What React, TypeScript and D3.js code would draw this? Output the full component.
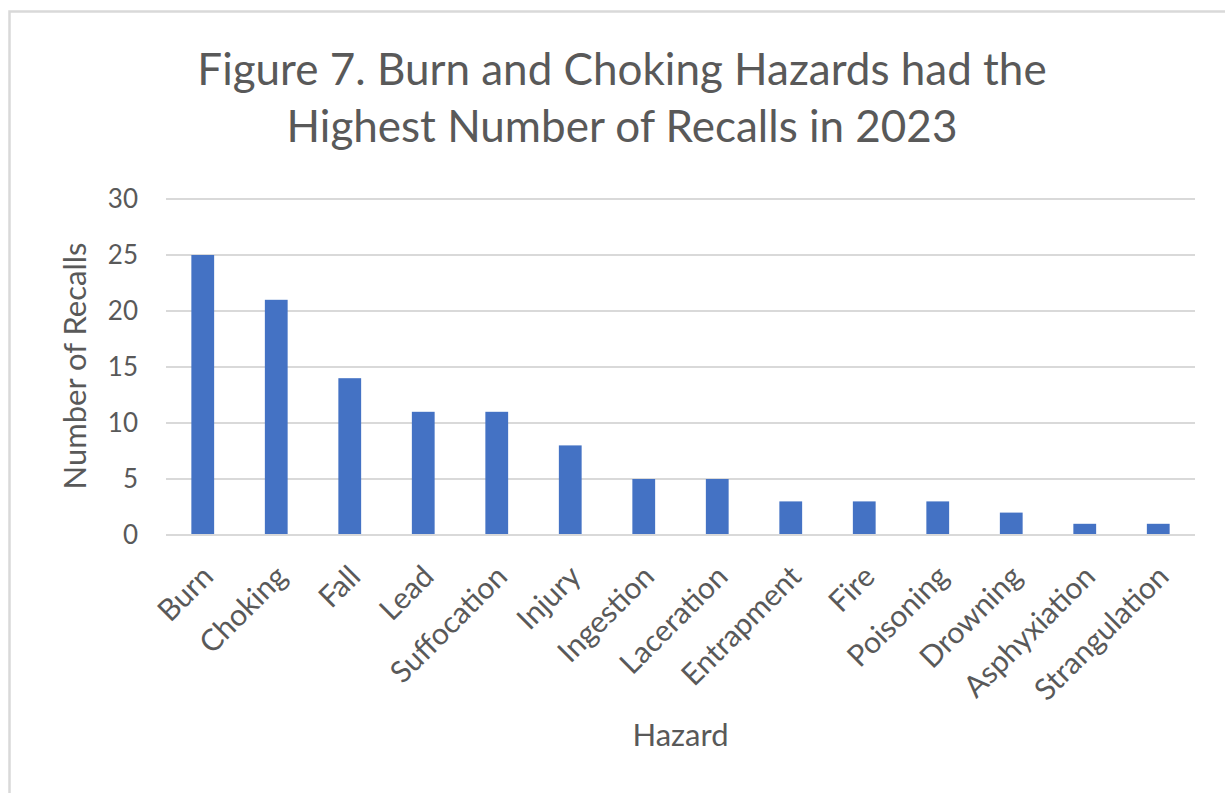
import React from "react";
import * as d3 from "d3";

const hazards = [
  "Burn",
  "Choking",
  "Fall",
  "Lead",
  "Suffocation",
  "Injury",
  "Ingestion",
  "Laceration",
  "Entrapment",
  "Fire",
  "Poisoning",
  "Drowning",
  "Asphyxiation",
  "Strangulation",
];
const recalls = [25, 21, 14, 11, 11, 8, 5, 5, 3, 3, 3, 2, 1, 1];
const yTicks = [0, 5, 10, 15, 20, 25, 30];
const titleLines = [
  "Figure 7. Burn and Choking Hazards had the",
  "Highest Number of Recalls in 2023",
];

const width = 1225,
  height = 793;
const plot = { left: 166, right: 1195, top: 199, bottom: 535 };
const font = "Lato, 'Open Sans', sans-serif";
const textColor = "#595959";

const App = () => {
  const x = d3
    .scaleBand()
    .domain(hazards)
    .range([plot.left, plot.right])
    .paddingInner(0.69)
    .paddingOuter(0.345);

  const y = d3.scaleLinear().domain([0, 30]).range([plot.bottom, plot.top]);

  const data = hazards.map((name, i) => ({ name, value: recalls[i] }));

  return (
    <svg
      width={width}
      height={height}
      style={{ position: "absolute", left: 0, top: 0, background: "#fff" }}
      fontFamily={font}
    >
      <rect x={9.5} y={11.5} width={1230} height={800} fill="#fff" stroke="#d9d9d9" strokeWidth={2.5} />

      <g fill={textColor} fontSize={44} textAnchor="middle">
        {titleLines.map((t, i) => (
          <text key={t} x={622} y={85 + i * 57}>
            {t}
          </text>
        ))}
      </g>

      <g>
        {yTicks.map((t) => (
          <g key={t}>
            <line
              x1={plot.left}
              x2={plot.right}
              y1={y(t)}
              y2={y(t)}
              stroke="#d9d9d9"
              strokeWidth={2}
            />
            <text
              x={138}
              y={y(t)}
              dy="0.35em"
              textAnchor="end"
              fill={textColor}
              fontSize={26}
            >
              {t}
            </text>
          </g>
        ))}
      </g>

      <g fill="#4472C4">
        {data.map((d) => (
          <rect
            key={d.name}
            x={x(d.name)}
            y={y(d.value)}
            width={x.bandwidth()}
            height={y(0) - y(d.value) - 1}
          />
        ))}
      </g>

      <g fill={textColor} fontSize={30} textAnchor="end">
        {hazards.map((h) => (
          <text
            key={h}
            transform={`translate(${x(h)! + x.bandwidth() / 2 + 5},571) rotate(-45)`}
            dy="0.35em"
          >
            {h}
          </text>
        ))}
      </g>

      <text
        transform="translate(86,366) rotate(-90)"
        textAnchor="middle"
        fill={textColor}
        fontSize={31}
      >
        Number of Recalls
      </text>

      <text
        x={(plot.left + plot.right) / 2}
        y={746}
        textAnchor="middle"
        fill={textColor}
        fontSize={31}
      >
        Hazard
      </text>
    </svg>
  );
};

export default App;
